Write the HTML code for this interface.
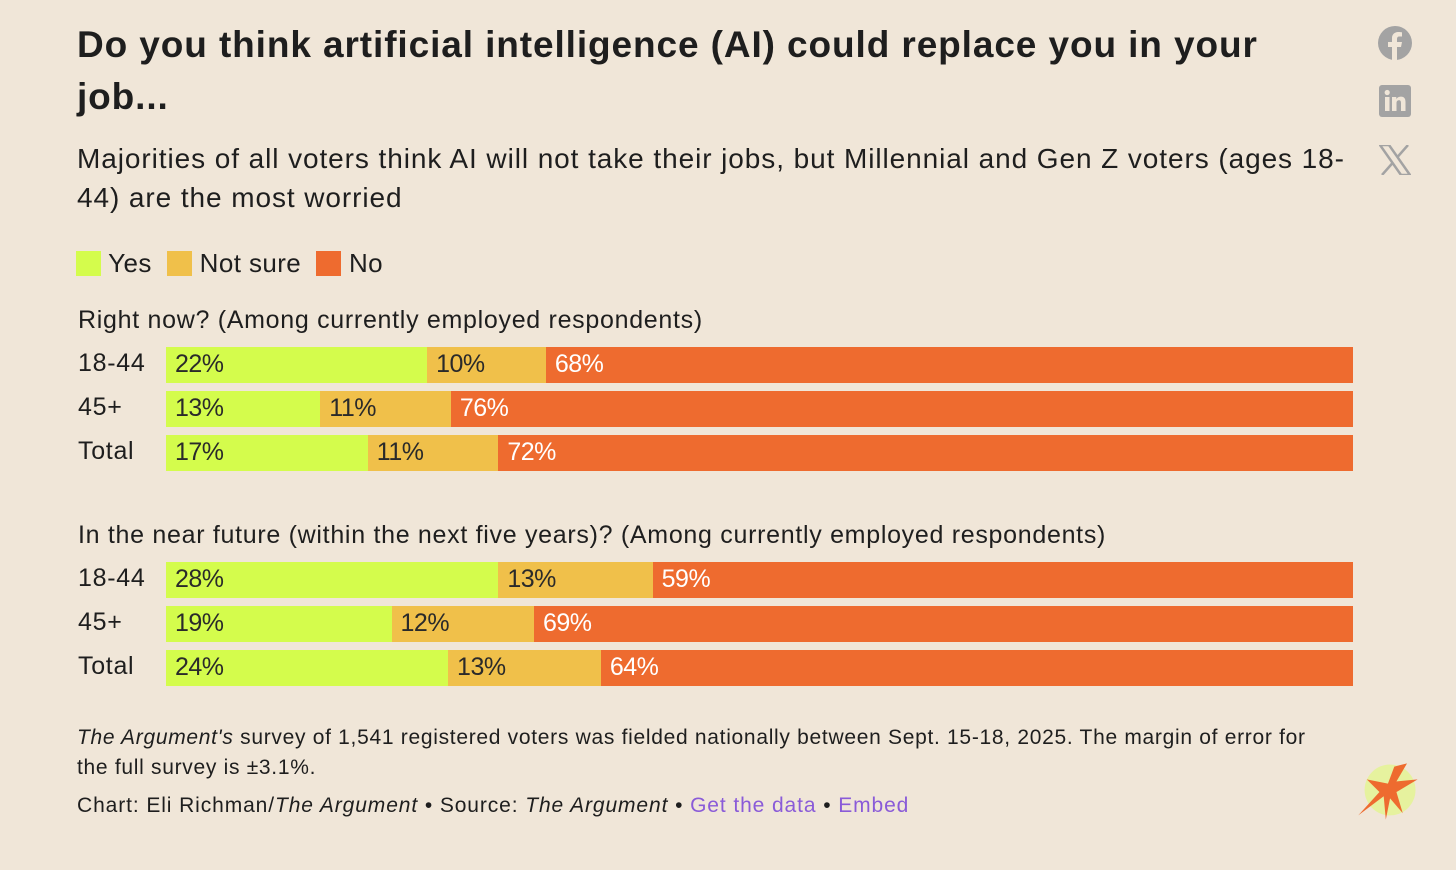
<!DOCTYPE html>
<html><head><meta charset="utf-8"><style>
body{margin:0;width:1456px;height:870px;background:#f0e6d8;font-family:"Liberation Sans",sans-serif;color:#1e1e1e;position:relative;overflow:hidden}
.a{position:absolute;white-space:nowrap}
.t{font-weight:bold;font-size:37px;letter-spacing:0.9px;left:77px}
.s{font-size:28px;left:77px;letter-spacing:0.92px}
.lab{font-size:25px;letter-spacing:0.7px}
.bar{position:absolute;height:36px}
.pct{position:absolute;font-size:25px;top:3px;left:9px;letter-spacing:-0.5px}
.f{font-size:21px;left:77px;letter-spacing:0.7px}
a{color:#8a5bd8;text-decoration:none}
</style></head><body>
<div class="a t" style="top:24px">Do you think artificial intelligence (AI) could replace you in your</div>
<div class="a t" style="top:76px">job...</div>
<div class="a s" style="top:143px">Majorities of all voters think AI will not take their jobs, but Millennial and Gen Z voters (ages 18-</div>
<div class="a s" style="top:182px">44) are the most worried</div>
<div class="a" style="left:76px;top:248px;font-size:26px;letter-spacing:0.4px">
<span style="display:inline-block;width:25px;height:25px;background:#d4fc4c;vertical-align:-4px"></span> Yes&nbsp;
<span style="display:inline-block;width:25px;height:25px;background:#f0c04a;vertical-align:-4px"></span> Not sure&nbsp;
<span style="display:inline-block;width:25px;height:25px;background:#ee6b2f;vertical-align:-4px"></span> No</div>
<div class="a lab" style="left:78px;top:306px">Right now? (Among currently employed respondents)</div>
<div class="a lab" style="left:78px;top:521px">In the near future (within the next five years)? (Among currently employed respondents)</div>
<div id="chart"></div>
<div class="a f" style="top:726px"><i>The Argument's</i> survey of 1,541 registered voters was fielded nationally between Sept. 15-18, 2025. The margin of error for</div>
<div class="a f" style="top:756px">the full survey is ±3.1%.</div>
<div class="a f" style="top:794px;letter-spacing:0.9px">Chart: Eli Richman/<i>The Argument</i> • Source: <i>The Argument</i> • <a>Get the data</a> • <a>Embed</a></div>
<svg class="a" style="left:1377px;top:25px" width="36" height="36" viewBox="0 0 36 36"><circle cx="18" cy="18" r="17" fill="#a3a3a3"/><path d="M20 36V22h4l1-5h-5v-3c0-1.5.6-2.5 2.5-2.5H25V7.3c-.8-.1-2-.3-3.5-.3C18 7 15 9 15 13v4h-4v5h4v14z" fill="#f0e6d8"/></svg>
<svg class="a" style="left:1379px;top:85px" width="32" height="32" viewBox="0 0 32 32"><rect width="32" height="32" rx="3" fill="#a3a3a3"/><rect x="6" y="12" width="4.5" height="14" fill="#f0e6d8"/><circle cx="8.2" cy="7.5" r="2.6" fill="#f0e6d8"/><path d="M13 12h4.3v2c1-1.6 2.6-2.4 4.7-2.4 3.3 0 4.5 2 4.5 5.5V26H22v-8c0-1.8-.5-2.8-2-2.8s-2.5 1-2.5 2.8v8H13z" fill="#f0e6d8"/></svg>
<svg class="a" style="left:1379px;top:145px" width="32" height="30" viewBox="0 0 32 30"><path d="M1 0h9l21 30h-9z" fill="none" stroke="#a3a3a3" stroke-width="2.5"/><path d="M29 0L18 12.5M3 30l11-12.5" stroke="#a3a3a3" stroke-width="2.5"/></svg>
<svg class="a" style="left:1354px;top:758px" width="70" height="66" viewBox="0 0 66 62"><circle cx="34" cy="30" r="24" fill="#e4f590" opacity="0.8"/><path d="M50 5L40 22 60 20 40 32 46 52 34 38 30 58 28 36 4 54 24 32 12 20 32 24 38 8z" fill="#ee6b2f"/></svg>
<script>
const groups=["18-44","45+","Total"];
const yesNow=[22,13,17], notSureNow=[10,11,11], noNow=[68,76,72];
const yesFut=[28,19,24], notSureFut=[13,12,13], noFut=[59,69,64];
const colors=["#d4fc4c","#f0c04a","#ee6b2f"];
const X0=166,W=1187;
const chart=document.getElementById('chart');
function draw(top,sets,prefix){
 groups.forEach((g,i)=>{
  const y=top+i*44;
  const total=sets.reduce((s,a)=>s+a[i],0);
  const xs=v=>v/total*W;
  const l=document.createElement('div');
  l.className='a lab';l.style.left='78px';l.style.top=(y+2)+'px';l.textContent=g;
  
  
  chart.appendChild(l);
  let acc=0;
  sets.forEach((s,k)=>{
   const v=s[i];
   const b=document.createElement('div');
   b.className='bar';b.style.left=(X0+xs(acc))+'px';b.style.top=y+'px';b.style.width=xs(v)+'px';b.style.background=colors[k];
   
   
   const p=document.createElement('span');p.className='pct';p.textContent=v+'%';
   p.style.color=k==2?'#fff':'#2a2a2a';
   
   
   b.appendChild(p);chart.appendChild(b);acc+=v;
  });
 });
}
draw(347,[yesNow,notSureNow,noNow],'now');
draw(562,[yesFut,notSureFut,noFut],'future');
</script>
</body></html>
